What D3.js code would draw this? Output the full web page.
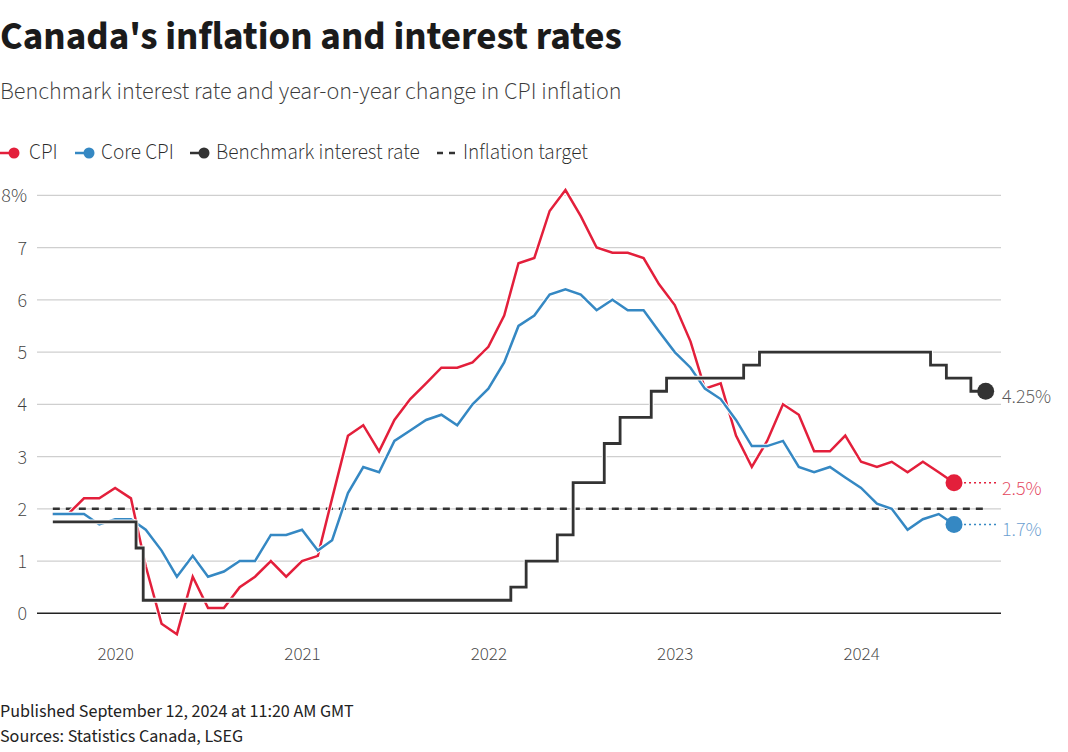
<!DOCTYPE html>
<html>
<head>
<meta charset="utf-8">
<script src="https://cdn.jsdelivr.net/npm/d3@7"></script>
<style>
  html, body { margin: 0; padding: 0; background: #fff; }
  svg { display: block; }
  text { font-family: "Source Sans Pro", "Source Sans 3", Lato, "Noto Sans", sans-serif; }
</style>
</head>
<body>
<svg id="chart" width="1068" height="752"></svg>
<script>
// ---------------- data ----------------
const cpiStart = "2019-09-01";
const cpi = [1.9,1.9,2.2,2.2,
  2.4,2.2,0.9,-0.2,-0.4,0.7,0.1,0.1,0.5,0.7,1.0,0.7,
  1.0,1.1,2.2,3.4,3.6,3.1,3.7,4.1,4.4,4.7,4.7,4.8,
  5.1,5.7,6.7,6.8,7.7,8.1,7.6,7.0,6.9,6.9,6.8,6.3,
  5.9,5.2,4.3,4.4,3.4,2.8,3.3,4.0,3.8,3.1,3.1,3.4,
  2.9,2.8,2.9,2.7,2.9,2.7,2.5];
const coreCpi = [1.9,1.9,1.9,1.7,
  1.8,1.8,1.6,1.2,0.7,1.1,0.7,0.8,1.0,1.0,1.5,1.5,
  1.6,1.2,1.4,2.3,2.8,2.7,3.3,3.5,3.7,3.8,3.6,4.0,
  4.3,4.8,5.5,5.7,6.1,6.2,6.1,5.8,6.0,5.8,5.8,5.4,
  5.0,4.7,4.3,4.1,3.7,3.2,3.2,3.3,2.8,2.7,2.8,2.6,
  2.4,2.1,2.0,1.6,1.8,1.9,1.7];
// benchmark rate: effective change points (step after)
const rateDates = ["2019-09-01","2020-02-11","2020-02-25","2022-02-14","2022-03-16","2022-05-16",
  "2022-06-16","2022-08-16","2022-09-16","2022-11-16","2022-12-16","2023-05-16","2023-06-16",
  "2024-05-16","2024-06-16","2024-08-03","2024-09-01"];
const rateValues = [1.75,1.25,0.25,0.5,1.0,1.5,2.5,3.25,3.75,4.25,4.5,4.75,5.0,4.75,4.5,4.25,4.25];
const targetValue = 2;
const targetDates = ["2019-09-01","2024-09-01"];
const yTicks = [0,1,2,3,4,5,6,7,8];
const xDomainDates = ["2019-08-01","2024-10-01"];
const legendItems = ["CPI","Core CPI","Benchmark interest rate","Inflation target"];
const titleText = "Canada's inflation and interest rates";
const subtitleText = "Benchmark interest rate and year-on-year change in CPI inflation";
const footerLines = ["Published September 12, 2024 at 11:20 AM GMT","Sources: Statistics Canada, LSEG"];

// ---------------- setup ----------------
const parse = d3.timeParse("%Y-%m-%d");
const t0 = parse(cpiStart);
const cpiData = cpi.map((v,i)=>({date:d3.timeMonth.offset(t0,i), v}));
const coreData = coreCpi.map((v,i)=>({date:d3.timeMonth.offset(t0,i), v}));
const rateData = rateDates.map((d,i)=>({date:parse(d), v:rateValues[i]}));
const targetData = targetDates.map(d=>({date:parse(d), v:targetValue}));

const RED = "#e31f3b", BLUE = "#3588c3", BLACK = "#333333";
const svg = d3.select("#chart");

const x = d3.scaleTime().domain(xDomainDates.map(parse)).range([37, 1001]);
const y = d3.scaleLinear().domain([0, 8]).range([613.3, 195.3]);

function fit(sel, target){
  const fs = parseFloat(sel.attr("font-size"));
  const w = sel.node().getComputedTextLength();
  if (w > 0) sel.attr("font-size", fs * target / w);
  return parseFloat(sel.attr("font-size"));
}

// title
const title = svg.append("text").attr("x",0).attr("y",49).attr("font-size",34)
  .attr("font-weight",700).attr("fill","#1b1b1b").text(titleText);
fit(title, 622);
const sub = svg.append("text").attr("x",0).attr("y",99).attr("font-size",21)
  .attr("font-weight",300).attr("fill","#3a3a3a").text(subtitleText);
fit(sub, 622);

// legend
const lg = svg.append("g");
const legendPos = [
  {mx:0, tx:29, color:RED, type:"dot"},
  {mx:75, tx:101, color:BLUE, type:"dot"},
  {mx:190, tx:216, color:BLACK, type:"dot"},
  {mx:437, tx:463, color:BLACK, type:"dash"}
];
let legFs = 18;
legendItems.forEach((name,i)=>{
  const p = legendPos[i];
  if (p.type === "dot") {
    lg.append("line").attr("x1",p.mx).attr("x2",p.mx+12).attr("y1",153).attr("y2",153)
      .attr("stroke",p.color).attr("stroke-width",2.5);
    lg.append("circle").attr("cx",p.mx+14).attr("cy",153).attr("r",5.5).attr("fill",p.color);
  } else {
    lg.append("line").attr("x1",p.mx).attr("x2",p.mx+18).attr("y1",153).attr("y2",153)
      .attr("stroke",p.color).attr("stroke-width",2.5).attr("stroke-dasharray","6,6");
  }
  const t = lg.append("text").attr("class","legtext").attr("x",p.tx).attr("y",159).attr("font-size",18)
    .attr("font-weight",300).attr("fill","#2a2a2a").text(name);
  if (i === 2) legFs = fit(t, 204);
});
lg.selectAll(".legtext").attr("font-size", legFs);

// grid
const grid = svg.append("g");
grid.selectAll("line").data(yTicks.filter(d=>d!==0)).join("line")
  .attr("x1",37).attr("x2",1001).attr("y1",d=>y(d)).attr("y2",d=>y(d))
  .attr("stroke","#cfcfcf").attr("stroke-width",1.3);
grid.append("line").attr("x1",37).attr("x2",1001).attr("y1",y(0)).attr("y2",y(0))
  .attr("stroke","#222").attr("stroke-width",1.4);

// y labels
svg.append("g").selectAll("text").data(yTicks).join("text")
  .attr("x",27).attr("y",d=>y(d)).attr("dy","0.35em").attr("text-anchor","end")
  .attr("font-size",20).attr("font-weight",300).attr("fill","#3f3f3f")
  .text(d=> d===8 ? d+"%" : d);

// x axis
const xAxis = svg.append("g").attr("transform","translate(0,646)")
  .call(d3.axisBottom(x).ticks(d3.timeYear.every(1)).tickFormat(d3.timeFormat("%Y")).tickSize(0).tickPadding(0));
xAxis.select(".domain").remove();
xAxis.selectAll("text").attr("font-size",19).attr("font-weight",300).attr("fill","#3f3f3f")
  .style("font-family",'"Source Sans Pro", "Source Sans 3", Lato, sans-serif');

// target
const lineGen = d3.line().x(d=>x(d.date)).y(d=>y(d.v));
svg.append("path").datum(targetData).attr("d",lineGen).attr("fill","none")
  .attr("stroke",BLACK).attr("stroke-width",2.6).attr("stroke-dasharray","7,6");

// series lines with white casing
function drawLine(data, color, curve, width){
  const g = d3.line().x(d=>x(d.date)).y(d=>y(d.v)).curve(curve);
  svg.append("path").datum(data).attr("d",g).attr("fill","none")
    .attr("stroke","#fff").attr("stroke-width",width+2).attr("stroke-linejoin","miter");
  svg.append("path").datum(data).attr("d",g).attr("fill","none")
    .attr("stroke",color).attr("stroke-width",width).attr("stroke-linejoin","miter");
}
drawLine(cpiData, RED, d3.curveLinear, 2.5);
drawLine(coreData, BLUE, d3.curveLinear, 2.5);
drawLine(rateData, BLACK, d3.curveStepAfter, 2.8);

// end markers + labels
const ends = [
  {d:cpiData[cpiData.length-1], color:RED, label:"#e4445b", leader:true},
  {d:coreData[coreData.length-1], color:BLUE, label:"#6a9ed0", leader:true},
  {d:rateData[rateData.length-1], color:BLACK, label:"#555", leader:false}
];
ends.forEach(e=>{
  const cx = x(e.d.date), cy = y(e.d.v);
  if (e.leader) {
    svg.append("line").attr("x1",cx+10).attr("x2",996).attr("y1",cy).attr("y2",cy)
      .attr("stroke",e.color).attr("stroke-width",1.5).attr("stroke-dasharray","2,3");
  }
  svg.append("circle").attr("cx",cx).attr("cy",cy).attr("r",8.5).attr("fill",e.color);
  svg.append("text").attr("x",1002).attr("y",cy+12).attr("font-size",20).attr("font-weight",300)
    .attr("fill",e.label).text(d3.format(",")(e.d.v)+"%");
});

// footer
const f1 = svg.append("text").attr("x",0).attr("y",717).attr("font-size",16).attr("fill","#222").text(footerLines[0]);
const ffs = fit(f1, 354);
svg.append("text").attr("x",0).attr("y",742).attr("font-size",ffs).attr("fill","#222").text(footerLines[1]);
</script>
</body>
</html>
